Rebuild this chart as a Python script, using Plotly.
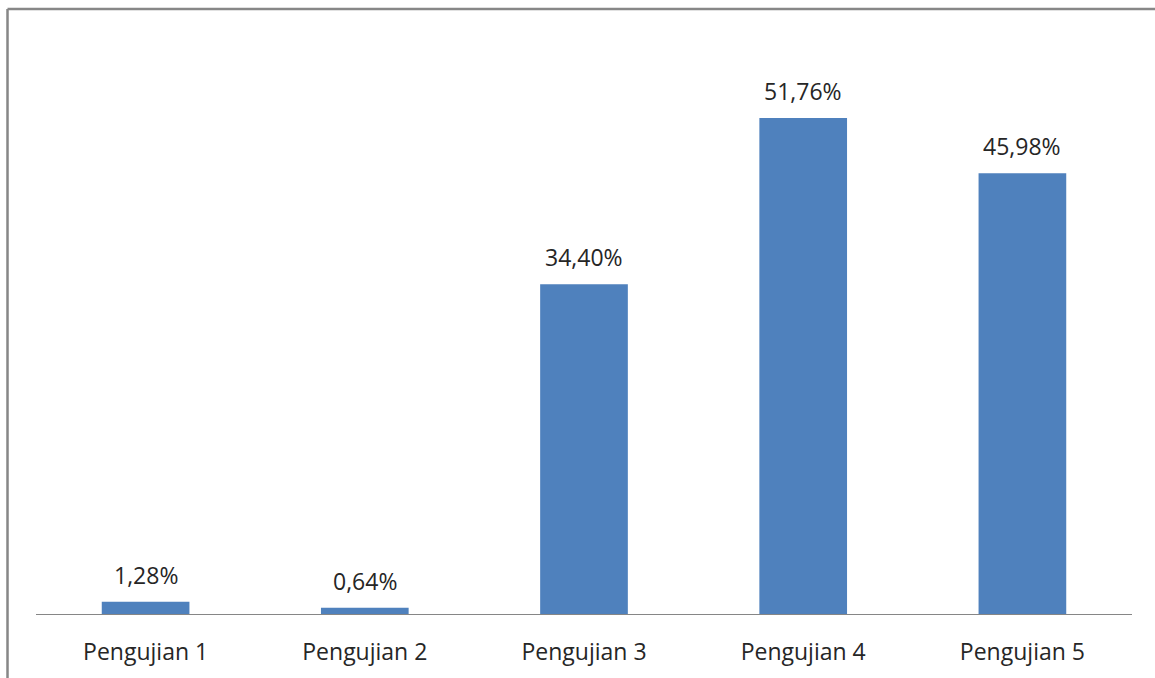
import plotly.graph_objects as go

categories = ["Pengujian 1", "Pengujian 2", "Pengujian 3", "Pengujian 4", "Pengujian 5"]
values = [1.28, 0.64, 34.40, 51.76, 45.98]
labels = [f"{v:.2f}%".replace(".", ",") for v in values]

FONT = "Open Sans, Calibri, Carlito, sans-serif"
TXT = "#262626"

fig = go.Figure()
fig.add_trace(go.Bar(x=categories, y=values, marker=dict(color="#4F81BD", line=dict(width=0)),
                     hoverinfo="skip"))

for c, v, t in zip(categories, values, labels):
    fig.add_annotation(x=c, y=v, text=t, showarrow=False, yanchor="bottom", yshift=9,
                       font=dict(family=FONT, size=23, color=TXT))

# outer border (left and top visible)
fig.add_shape(type="line", xref="paper", yref="paper", x0=-0.0260, x1=1.03, y0=1.0522, y1=1.0522,
              line=dict(color="#878787", width=2.5))
fig.add_shape(type="line", xref="paper", yref="paper", x0=-0.0260, x1=-0.0260, y0=-0.2, y1=1.0522,
              line=dict(color="#878787", width=2.5))

fig.update_layout(
    width=1155, height=678,
    margin=dict(l=36, r=23, t=39, b=64),
    paper_bgcolor="white", plot_bgcolor="white",
    bargap=0.6, showlegend=False,
    xaxis=dict(showline=True, linecolor="#868686", linewidth=1, ticks="", showgrid=False,
               tickfont=dict(family=FONT, size=23, color=TXT), ticklabelstandoff=17, fixedrange=True),
    yaxis=dict(range=[0, 60], visible=False, showgrid=False, zeroline=False, fixedrange=True),
)

fig.write_html("out.html")
